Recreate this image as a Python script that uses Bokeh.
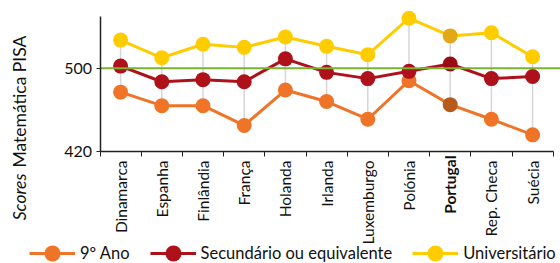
import math
from bokeh.plotting import figure
from bokeh.models import Range1d, FixedTicker, Label, Legend, LegendItem
from bokeh.embed import file_html
from bokeh.resources import INLINE

countries = ["Dinamarca", "Espanha", "Finlândia", "França", "Holanda", "Irlanda",
             "Luxemburgo", "Polónia", "Portugal", "Rep. Checa", "Suécia"]
ano9 = [477, 464, 464, 445, 479, 468, 451, 488, 465, 451, 436]
secundario = [502, 487, 489, 487, 509, 496, 490, 497, 504, 490, 492]
universitario = [527, 510, 523, 520, 530, 521, 513, 548, 531, 534, 511]
series_names = ["9º Ano", "Secundário ou equivalente", "Universitário"]
y_ticks = [420, 500]
y_axis_top = 550
reference_value = 500
highlight = "Portugal"

FONT = "Lato"
colors = ["#F07427", "#AE1119", "#FFCC00"]
hl_colors = ["#B85A1A", "#9A0C14", "#E2A816"]

W, H = 560, 263
n = len(countries)
xs = [i + 0.5 for i in range(n)]

# frame covers the whole canvas; axes are pinned with fixed_location
px_per_x = 41.2
px_per_y = 1.0413
x_left, y_base_px, y500_px = 99.5, 151.0, 67.7
x_start = -x_left / px_per_x
x_end = (W - x_left) / px_per_x
y_start = y_ticks[0] - (H - y_base_px) / px_per_y
y_end = reference_value + y500_px / px_per_y

p = figure(width=W, height=H, output_backend="svg", toolbar_location=None,
           x_range=Range1d(x_start, x_end), y_range=Range1d(y_start, y_end),
           min_border=0)
p.outline_line_color = None
p.xgrid.visible = False
p.ygrid.visible = False
p.background_fill_color = "white"

lo = [min(a, b, c) for a, b, c in zip(ano9, secundario, universitario)]
hi = [max(a, b, c) for a, b, c in zip(ano9, secundario, universitario)]
p.segment(xs, lo, xs, hi, line_color="#d6d6d6", line_width=1.5)

renderers = []
for vals, c, hc in zip([ano9, secundario, universitario], colors, hl_colors):
    pc = [hc if name == highlight else c for name in countries]
    l = p.line(xs, vals, line_color=c, line_width=3)
    s = p.scatter(xs, vals, size=15, fill_color=pc, line_color=pc, line_width=0)
    renderers.append((l, s))

# reference line from the y axis to the right edge
p.segment(x0=[0], y0=[reference_value], x1=[x_end], y1=[reference_value],
          line_color="#7AB32E", line_width=2)

# axes
ax = p.xaxis[0]
ax.fixed_location = y_ticks[0]
ax.ticker = FixedTicker(ticks=xs, minor_ticks=list(range(n + 1)))
ax.major_label_overrides = {x: ("" if name == highlight else name)
                            for x, name in zip(xs, countries)}
ax.major_label_orientation = math.pi / 2
ax.major_tick_line_color = None
ax.major_tick_out = 0
ax.major_tick_in = 0
ax.minor_tick_out = 5
ax.minor_tick_in = 0
ax.minor_tick_line_color = "#222222"
ax.minor_tick_line_width = 1
ax.axis_line_color = "#222222"
ax.axis_line_width = 1.5
ax.bounds = (0, n)
ax.major_label_standoff = 4
ax.major_label_text_font = FONT
ax.major_label_text_font_size = "15.5px"
ax.major_label_text_color = "#111111"

ay = p.yaxis[0]
ay.fixed_location = 0
ay.ticker = FixedTicker(ticks=y_ticks, minor_ticks=[])
ay.bounds = (y_ticks[0], y_axis_top)
ay.major_tick_out = 4
ay.major_tick_in = 0
ay.major_tick_line_color = "#222222"
ay.axis_line_color = "#222222"
ay.axis_line_width = 1.5
ay.major_label_standoff = 4
ay.major_label_text_font = FONT
ay.major_label_text_font_size = "16px"
ay.major_label_text_color = "#111111"

# bold highlighted category label
p.add_layout(Label(x=xs[countries.index(highlight)], y=y_ticks[0], y_offset=-4,
                   text=highlight, angle=math.pi / 2, text_align="right",
                   text_baseline="middle", text_font=FONT, text_font_size="15.5px",
                   text_font_style="bold", text_color="#111111"))

# y axis title (mixed italic / normal)
p.add_layout(Label(x=0, y=y_ticks[0], x_offset=-80.5, y_offset=-22, text="Scores",
                   angle=math.pi / 2, text_align="right", text_baseline="middle",
                   text_font=FONT, text_font_size="17.5px", text_font_style="italic",
                   text_color="#111111"))
p.add_layout(Label(x=0, y=y_ticks[0], x_offset=-80.5, y_offset=-16,
                   text="Matemática PISA", angle=math.pi / 2, text_align="left",
                   text_baseline="middle", text_font=FONT, text_font_size="17.5px",
                   text_color="#111111"))

legend = Legend(items=[LegendItem(label=name, renderers=[l, s], index=0)
                       for name, (l, s) in zip(series_names, renderers)],
                location=(29, -10), orientation="horizontal",
                glyph_width=46, glyph_height=40, label_height=20,
                label_standoff=5, spacing=20, padding=0, margin=0,
                border_line_color=None, background_fill_alpha=0,
                label_text_font=FONT, label_text_font_size="16.5px",
                label_text_color="#111111")
p.add_layout(legend, "center")

open("out.html", "w").write(file_html(p, INLINE))
